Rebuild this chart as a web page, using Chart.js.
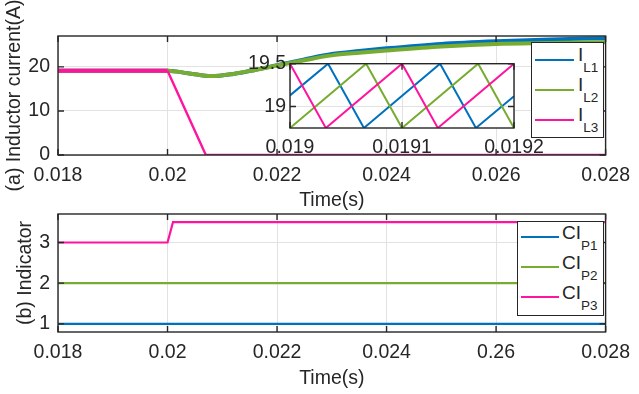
<!DOCTYPE html>
<html lang="en">
<head>
<meta charset="UTF-8">
<title>Inductor current and indicator</title>
<style>
    body { margin: 0; background: #fff; width: 639px; height: 394px; overflow: hidden; position: relative;
           font-family: "Liberation Sans", Arial, sans-serif; color: #262626; }
    .plot { position: absolute; }
    .legend { position: absolute; background: #fff; border: 1.3px solid #262626; box-sizing: border-box; }
    .legend .row { position: absolute; left: 0; width: 100%; height: 30px; }
    .legend .swatch { position: absolute; top: 14px; height: 2px; }
    .legend .lbl { position: absolute; font-size: 19px; line-height: 18px; white-space: nowrap; }
    .legend sub { font-size: 13.5px; line-height: 0; vertical-align: -11px; }
</style>
</head>
<body>
    <div class="plot" style="left:0;top:0"><canvas id="chartA" width="639" height="215"></canvas></div>
    <div class="plot" style="left:0;top:190px"><canvas id="chartB" width="639" height="204"></canvas></div>
    <div class="plot" style="left:230px;top:48px"><canvas id="chartZoom" width="330" height="115"></canvas></div>
    <div class="legend" id="legendA" style="left:531px;top:42px;width:73px;height:96px"></div>
    <div class="legend" id="legendB" style="left:517px;top:221px;width:87px;height:95px"></div>

    <script src="https://cdn.jsdelivr.net/npm/chart.js"></script>
    <script>
        // ---- data ----
        // (a) inductor currents, main view
        const timeA = [0.018, 0.02, 0.0204, 0.0208, 0.0212, 0.0216, 0.022, 0.0225, 0.023, 0.0235, 0.024, 0.025, 0.026, 0.027, 0.028];
        const iL1 = [19.1, 19.1, 18.5, 17.9, 18.4, 19.3, 20.4, 21.7, 22.9, 23.6, 24.2, 25.2, 25.8, 26.2, 26.5];
        const iL2 = [19.1, 19.1, 18.5, 17.9, 18.4, 19.3, 20.3, 21.5, 22.6, 23.2, 23.7, 24.6, 25.2, 25.4, 25.6];
        const timeL3 = [0.018, 0.02, 0.0207, 0.028];
        const iL3 = [19.1, 19.1, 0, 0];

        // (a) inset, ripple vertices between 0.019 and 0.0192 s
        const zoomT1 = [0.019, 0.019034, 0.019066, 0.019134, 0.019166, 0.0192];
        const zoomL1 = [19.13, 19.5, 18.75, 19.5, 18.75, 19.12];
        const zoomT2 = [0.019, 0.019068, 0.0191, 0.019168, 0.0192];
        const zoomL2 = [18.75, 19.5, 18.75, 19.5, 18.75];
        const zoomT3 = [0.019, 0.019032, 0.0191, 0.019132, 0.0192];
        const zoomL3 = [19.5, 18.75, 19.5, 18.75, 19.5];

        // (b) indicators
        const timeB = [0.018, 0.028];
        const ci1 = [1, 1];
        const ci2 = [2, 2];
        const timeB3 = [0.018, 0.02, 0.0201, 0.028];
        const ci3 = [3, 3, 3.5, 3.5];

        // ticks
        const xTicks = [0.018, 0.02, 0.022, 0.024, 0.026, 0.028];
        const xLabelsA = ['0.018', '0.02', '0.022', '0.024', '0.026', '0.028'];
        const xLabelsB = ['0.018', '0.02', '0.022', '0.024', '0.26', '0.028'];
        const yTicksA = [0, 10, 20];
        const yTicksB = [1, 2, 3];
        const zoomXTicks = [0.019, 0.0191, 0.0192];
        const zoomXLabels = ['0.019', '0.0191', '0.0192'];
        const zoomYTicks = [19, 19.5];

        const legendSubA = ['L1', 'L2', 'L3'];
        const legendSubB = ['P1', 'P2', 'P3'];

        const BLUE = '#0072bd', GREEN = '#77ac30', PINK = '#ff149e';
        const INK = '#262626', GRID = '#e2e2e2';

        Chart.defaults.font.family = '"Liberation Sans", Arial, sans-serif';
        Chart.defaults.font.size = 19.5;
        Chart.defaults.color = INK;

        const pts = (xs, ys) => xs.map((x, i) => ({x: x, y: ys[i]}));

        // white plot area, box and inward tick marks like MATLAB
        const framePlugin = {
            id: 'frame',
            beforeDraw(chart) {
                const {ctx, chartArea: a} = chart;
                ctx.save();
                ctx.fillStyle = '#fff';
                ctx.fillRect(a.left, a.top, a.width, a.height);
                ctx.restore();
            },
            afterDatasetsDraw(chart) {
                const {ctx, chartArea: a, scales} = chart;
                const len = 6;
                ctx.save();
                ctx.strokeStyle = INK;
                ctx.lineWidth = 1.4;
                ctx.beginPath();
                scales.x.ticks.forEach(t => {
                    const px = scales.x.getPixelForValue(t.value);
                    ctx.moveTo(px, a.bottom); ctx.lineTo(px, a.bottom - len);
                    ctx.moveTo(px, a.top); ctx.lineTo(px, a.top + len);
                });
                scales.y.ticks.forEach(t => {
                    const py = scales.y.getPixelForValue(t.value);
                    ctx.moveTo(a.left, py); ctx.lineTo(a.left + len, py);
                    ctx.moveTo(a.right, py); ctx.lineTo(a.right - len, py);
                });
                ctx.stroke();
                ctx.strokeRect(a.left, a.top, a.width, a.height);
                ctx.restore();
            }
        };

        function axisX(min, max, ticks, labels, opts) {
            return {
                type: 'linear', min: min, max: max,
                afterBuildTicks: s => { s.ticks = ticks.map(v => ({value: v})); },
                afterFit: s => { s.height = opts.height; },
                ticks: { autoSkip: false, maxRotation: 0, padding: opts.pad, callback: (v, i) => labels[i] },
                grid: { color: GRID, drawTicks: false },
                border: { display: false },
                title: opts.title ? { display: true, text: opts.title, padding: {top: 0, bottom: opts.titlePad} } : { display: false }
            };
        }

        function axisY(min, max, ticks, opts) {
            return {
                min: min, max: max,
                afterBuildTicks: s => { s.ticks = ticks.map(v => ({value: v})); },
                afterFit: s => { s.width = opts.width; },
                ticks: { padding: opts.pad, callback: v => String(v) },
                grid: { color: GRID, drawTicks: false },
                border: { display: false },
                title: opts.title ? { display: true, text: opts.title, padding: {top: opts.titlePad, bottom: 0} } : { display: false }
            };
        }

        const common = {
            responsive: false,
            animation: false,
            plugins: { legend: { display: false }, tooltip: { enabled: false } },
            elements: { point: { radius: 0 } }
        };

        // (a) inductor current
        new Chart(document.getElementById('chartA'), {
            type: 'line',
            data: {
                datasets: [
                    { data: pts(timeA, iL1), borderColor: BLUE, borderWidth: 4, cubicInterpolationMode: 'monotone', order: 3 },
                    { data: pts(timeA, iL2), borderColor: GREEN, borderWidth: 4, cubicInterpolationMode: 'monotone', order: 2 },
                    { data: pts(timeL3, iL3), borderColor: PINK, borderWidth: 2.2, order: 1,
                      segment: { borderWidth: c => (c.p0.parsed.y > 5 && c.p1.parsed.y > 5) ? 4 : 2.4 } }
                ]
            },
            options: Object.assign({}, common, {
                layout: { padding: { top: 36, right: 26, left: 0, bottom: 0 } },
                scales: {
                    x: axisX(0.018, 0.028, xTicks, xLabelsA, { height: 60, pad: 9, title: 'Time(s)', titlePad: 3 }),
                    y: axisY(0, 27, yTicksA, { width: 58, pad: 8, title: '(a) Inductor current(A)', titlePad: 3 })
                }
            }),
            plugins: [framePlugin]
        });

        // (a) inset zoom
        new Chart(document.getElementById('chartZoom'), {
            type: 'line',
            data: {
                datasets: [
                    { data: pts(zoomT1, zoomL1), borderColor: BLUE, borderWidth: 2, order: 3 },
                    { data: pts(zoomT2, zoomL2), borderColor: GREEN, borderWidth: 2, order: 2 },
                    { data: pts(zoomT3, zoomL3), borderColor: PINK, borderWidth: 2, order: 1 }
                ]
            },
            options: Object.assign({}, common, {
                layout: { padding: { top: 13, right: 46, left: 0, bottom: 0 } },
                scales: {
                    x: axisX(0.019, 0.0192, zoomXTicks, zoomXLabels, { height: 35, pad: 8 }),
                    y: axisY(18.75, 19.5, zoomYTicks, { width: 60, pad: 4 })
                }
            }),
            plugins: [framePlugin]
        });

        // (b) indicator
        new Chart(document.getElementById('chartB'), {
            type: 'line',
            data: {
                datasets: [
                    { data: pts(timeB, ci1), borderColor: BLUE, borderWidth: 2.2 },
                    { data: pts(timeB, ci2), borderColor: GREEN, borderWidth: 2.2 },
                    { data: pts(timeB3, ci3), borderColor: PINK, borderWidth: 2.2 }
                ]
            },
            options: Object.assign({}, common, {
                layout: { padding: { top: 24, right: 26, left: 0, bottom: 0 } },
                scales: {
                    x: axisX(0.018, 0.028, xTicks, xLabelsB, { height: 62, pad: 9, title: 'Time(s)', titlePad: 4 }),
                    y: axisY(0.8, 3.7, yTicksB, { width: 58, pad: 8, title: '(b) Indicator', titlePad: 14 })
                }
            }),
            plugins: [framePlugin]
        });

        // legends with subscripts
        function buildLegend(id, prefix, subs, cfg) {
            const box = document.getElementById(id);
            const colors = [BLUE, GREEN, PINK];
            subs.forEach((s, i) => {
                const row = document.createElement('div');
                row.className = 'row';
                row.style.top = (cfg.top + 30 * i) + 'px';
                row.innerHTML = '<div class="swatch" style="left:' + cfg.swLeft + 'px;width:' + cfg.swWidth +
                    'px;background:' + colors[i] + '"></div>' +
                    '<span class="lbl" style="left:' + cfg.txtLeft + 'px;top:' + cfg.txtTop + 'px">' +
                    prefix + '<sub>' + s + '</sub></span>';
                box.appendChild(row);
            });
        }
        buildLegend('legendA', 'I', legendSubA, { top: 2, swLeft: 3, swWidth: 39, txtLeft: 46, txtTop: 1 });
        buildLegend('legendB', 'CI', legendSubB, { top: 0, swLeft: 3, swWidth: 38, txtLeft: 44, txtTop: 2 });
    </script>
</body>
</html>
